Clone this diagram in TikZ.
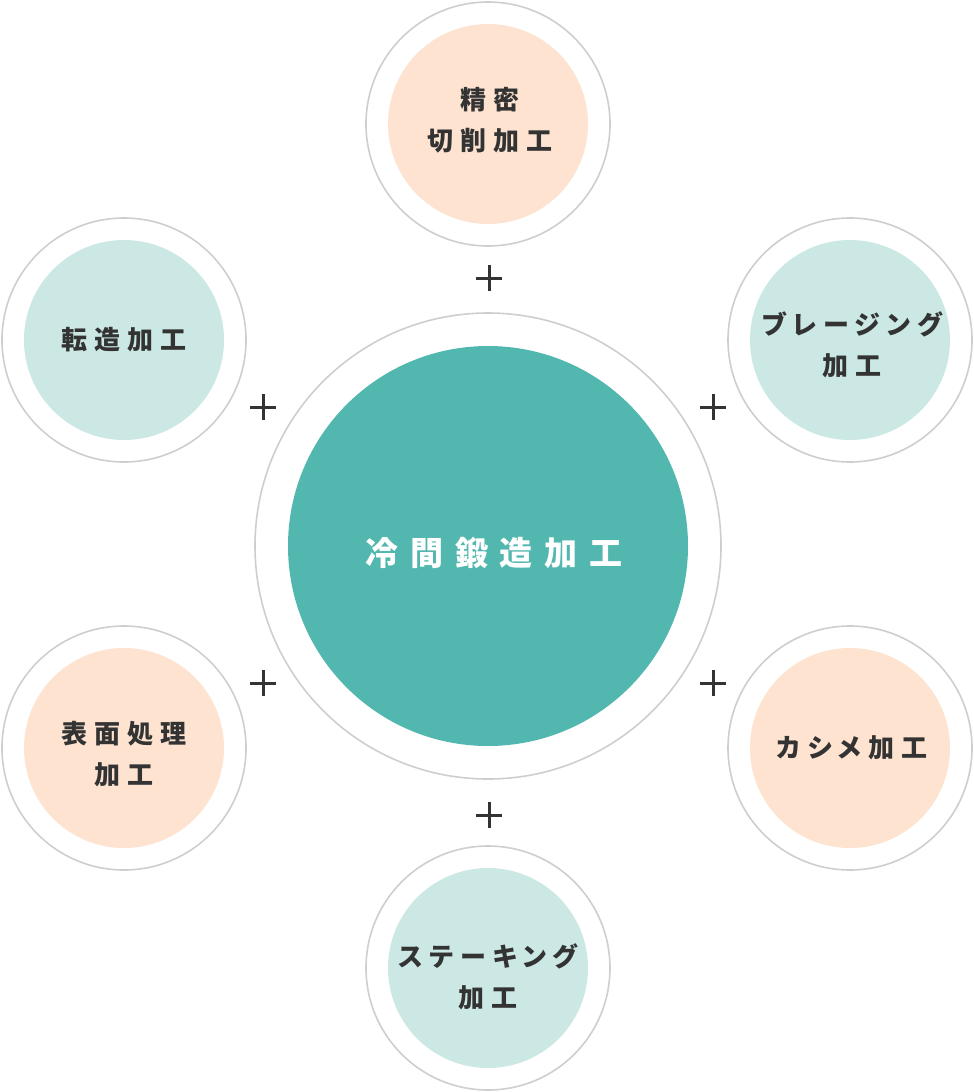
\documentclass[tikz,border=0pt]{standalone}
\usepackage{fontspec}
\usepackage{tikz}
\usetikzlibrary{positioning}
\newfontfamily\jpfont{Noto Sans CJK JP}[LetterSpace=26,RawFeature=+palt]
\newfontfamily\jpcore{Noto Sans CJK JP}[LetterSpace=36]
\definecolor{coretea}{RGB}{82,183,174}
\definecolor{peach}{RGB}{253,227,208}
\definecolor{mint}{RGB}{203,232,228}
\definecolor{ringgray}{RGB}{206,206,206}
\definecolor{textdark}{RGB}{51,51,51}
\tikzset{
  ring/.style={circle,draw=ringgray,line width=1.6pt,fill=white,minimum size=244pt,inner sep=0pt},
  bigring/.style={ring,minimum size=466pt},
  pbox/.style={circle,fill=peach,minimum size=200pt,inner sep=0pt},
  mbox/.style={pbox,fill=mint},
  core/.style={circle,fill=coretea,minimum size=400pt,inner sep=0pt},
  ptext/.style={align=center,text=textdark,inner sep=0pt,
                font=\jpfont\bfseries\fontsize{26}{41}\selectfont},
  ctext/.style={text=white,inner sep=0pt,font=\jpcore\bfseries\fontsize{33}{40}\selectfont},
  plusmark/.style={rectangle,minimum size=26pt,inner sep=0pt},
  plusline/.style={draw=textdark,line width=3pt},
}
\begin{document}
\begin{tikzpicture}[x=1pt,y=-1pt]
  \useasboundingbox (0,0) rectangle (974,1092);
  % centre
  \node[bigring] (coldring) at (488,546) {};
  \node[core,label={[ctext,xshift=6pt,yshift=-7pt]center:冷間鍛造加工}] (cold) at (coldring.center) {};
  % satellites
  \node[ring] (cutring) at (488,124) {};
  \node[pbox,label={[ptext,xshift=2pt,yshift=4pt]center:精密\\切削加工}] (cut) at (cutring.center) {};
  \node[ring] (rollring) at (124,340) {};
  \node[mbox,label={[ptext]center:転造加工}] (roll) at (rollring.center) {};
  \node[ring] (brazering) at (850,340) {};
  \node[mbox,label={[ptext,xshift=2pt,yshift=-5pt]center:ブレージング\\加工}] (braze) at (brazering.center) {};
  \node[ring] (surfring) at (124,748) {};
  \node[pbox,label={[ptext,yshift=-6pt]center:表面処理\\加工}] (surf) at (surfring.center) {};
  \node[ring] (crimpring) at (850,748) {};
  \node[pbox,label={[ptext,xshift=2pt]center:カシメ加工}] (crimp) at (crimpring.center) {};
  \node[ring] (stakering) at (488,968) {};
  \node[mbox,label={[ptext,yshift=-9pt]center:ステーキング\\加工}] (stake) at (stakering.center) {};
  % plus signs
  \node[plusmark] (p1) at (489,278) {};
  \node[plusmark] (p2) at (263,407) {};
  \node[plusmark] (p3) at (713,407) {};
  \node[plusmark] (p4) at (263,683) {};
  \node[plusmark] (p5) at (713,683) {};
  \node[plusmark] (p6) at (489,815) {};
  \foreach \p in {p1,p2,p3,p4,p5,p6}
    \draw[plusline] (\p.west) -- (\p.east) (\p.north) -- (\p.south);
\end{tikzpicture}
\end{document}
